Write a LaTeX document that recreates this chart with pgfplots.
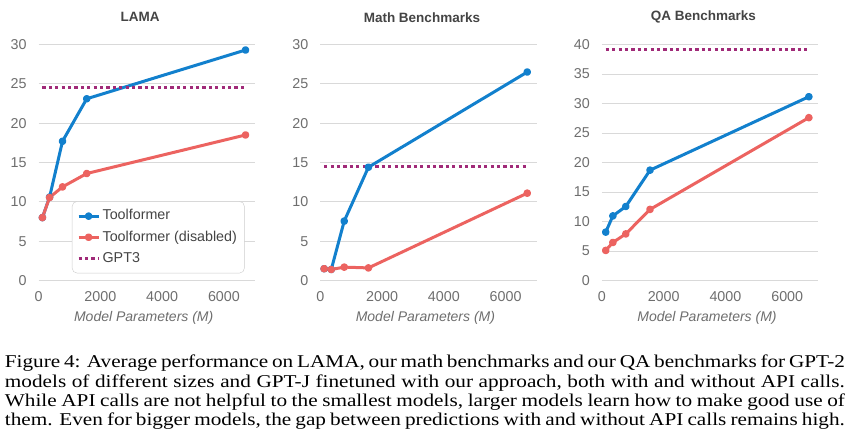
\documentclass[border=0pt]{standalone}
\usepackage{fontspec}
\setmainfont{Liberation Sans}
\newfontfamily\capfont[FakeStretch=1.18]{Liberation Serif}
\usepackage{pgfplots}
\pgfplotsset{compat=1.18}
\definecolor{tfblue}{RGB}{18,128,205}
\definecolor{tfred}{RGB}{236,99,96}
\definecolor{gptpurple}{RGB}{160,42,120}
\definecolor{gridgray}{RGB}{217,217,217}
\definecolor{ticklab}{RGB}{110,110,110}
\definecolor{titlecol}{RGB}{68,68,68}

\pgfplotsset{
  panel/.style={
    scale only axis, width=216.2pt, height=236pt,
    xmin=0, xmax=7000, ymin=0,
    xtick={0,2000,4000,6000},
    axis line style={draw=none},
    major tick length=0pt,
    ymajorgrids, major grid style={gridgray, line width=0.9pt},
    /pgf/number format/assume math mode=true,
    /pgf/number format/1000 sep={},
    tick label style={font=\fontsize{14.3}{14.3}\selectfont, text=ticklab},
    yticklabel style={xshift=-8.5pt},
    xticklabel style={yshift=-7.5pt},
    xlabel={Model Parameters (M)},
    xlabel style={font=\itshape\fontsize{14}{14}\selectfont, text=ticklab, at={(axis description cs:0.5,0)}, anchor=center, yshift=-37.5pt, xshift=-3pt},
    title style={font=\bfseries\fontsize{13.5}{13.5}\selectfont, text=titlecol, at={(axis description cs:0.5,1)}, anchor=center, yshift=21.2pt, xshift=-6.5pt},
    clip=false,
  },
  tf/.style={tfblue, line width=3pt, line join=round, mark=*, mark size=2.3pt, mark options={solid, fill=tfblue}},
  tfd/.style={tfred, line width=3pt, line join=round, mark=*, mark size=2.3pt, mark options={solid, fill=tfred}},
  gpt/.style={gptpurple, line width=3pt, dash pattern=on 3.2pt off 3.2pt, no marks},
}

\begin{document}
\begin{tikzpicture}[x=1pt,y=1pt]
\useasboundingbox (0,0) rectangle (851,-442);

% ---------- LAMA ----------
\begin{axis}[panel, at={(38.6pt,-280.5pt)}, anchor=south west,
  title={LAMA}, ymax=30, ytick={0,5,...,30},
  legend image code/.code={\draw[mark repeat=2,mark phase=2,#1] plot coordinates {(0pt,0pt) (10pt,0pt) (20pt,0pt)};},
  legend style={at={(0.953,0.0305)}, anchor=south east, draw=gridgray!85!gray, rounded corners=5pt, fill=white,
    font=\fontsize{14.3}{14.3}\selectfont, text=titlecol, inner xsep=5pt, inner ysep=6pt, row sep=3.6pt,
    nodes={text height=10.5pt, text depth=3pt, inner ysep=2pt, inner xsep=2.5pt}},
  legend cell align=left]
\addplot[tf] coordinates {(124,8.0) (355,10.6) (774,17.7) (1558,23.1) (6700,29.3)};
\addlegendentry{Toolformer}
\addplot[tfd] coordinates {(124,8.0) (355,10.55) (774,11.9) (1558,13.6) (6700,18.5)};
\addlegendentry{Toolformer (disabled)}
\addplot[gpt] coordinates {(124,24.5) (6700,24.5)};
\addlegendentry{GPT3}
\end{axis}

% ---------- Math ----------
\begin{axis}[panel, at={(320.3pt,-280.5pt)}, anchor=south west,
  title={Math Benchmarks}, ymax=30, ytick={0,5,...,30}]
\addplot[tf] coordinates {(124,1.5) (355,1.4) (774,7.55) (1558,14.4) (6700,26.5)};
\addplot[tfd] coordinates {(124,1.5) (355,1.4) (774,1.7) (1558,1.6) (6700,11.1)};
\addplot[gpt] coordinates {(124,14.55) (6700,14.55)};
\end{axis}

% ---------- QA ----------
\begin{axis}[panel, at={(601.9pt,-280.5pt)}, anchor=south west,
  title={QA Benchmarks}, ymax=40, ytick={0,5,...,40}]
\addplot[tf] coordinates {(124,8.2) (355,10.95) (774,12.55) (1558,18.7) (6700,31.15)};
\addplot[tfd] coordinates {(124,5.1) (355,6.45) (774,7.9) (1558,12.05) (6700,27.6)};
\addplot[gpt] coordinates {(124,39.1) (6700,39.1)};
\end{axis}

% ---------- caption ----------
\begin{scope}[every node/.style={anchor=base west, inner sep=0pt, font=\capfont\fontsize{18}{19.3}\selectfont}]
\node at (4.7,-367.7) {\makebox[840pt][s]{Figure 4: Average performance on LAMA, our math benchmarks and our QA benchmarks for GPT-2}};
\node at (4.7,-387.0) {\makebox[840pt][s]{models of different sizes and GPT-J finetuned with our approach, both with and without API calls.}};
\node at (4.7,-406.3) {\makebox[840pt][s]{While API calls are not helpful to the smallest models, larger models learn how to make good use of}};
\node at (4.7,-425.6) {\makebox[840pt][s]{them. Even for bigger models, the gap between predictions with and without API calls remains high.}};
\end{scope}
\end{tikzpicture}
\end{document}
